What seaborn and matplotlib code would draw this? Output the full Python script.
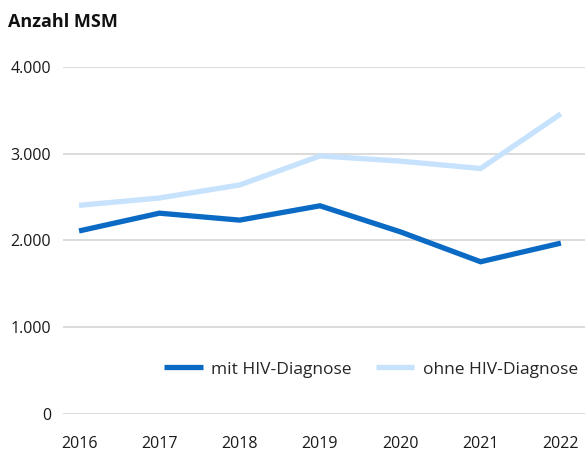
import matplotlib
matplotlib.use("Agg")
import matplotlib.pyplot as plt
import seaborn as sns
import pandas as pd
from matplotlib.ticker import FuncFormatter

years = [2016, 2017, 2018, 2019, 2020, 2021, 2022]
mit_hiv = [2110, 2315, 2235, 2400, 2100, 1755, 1970]
ohne_hiv = [2405, 2490, 2640, 2975, 2915, 2830, 3460]
labels = ["mit HIV-Diagnose", "ohne HIV-Diagnose"]
colors = ["#0a6ac4", "#c6e2fc"]

df = pd.DataFrame({"Jahr": years * 2,
                   "Anzahl": mit_hiv + ohne_hiv,
                   "Gruppe": [labels[0]] * len(years) + [labels[1]] * len(years)})

sns.set_style("white")
plt.rcParams["font.family"] = ["Open Sans", "DejaVu Sans"]

fig = plt.figure(figsize=(5.85, 4.53), dpi=100)
ax = fig.add_axes([63 / 585, 39 / 453, 522 / 585, 347 / 453])
sns.lineplot(data=df, x="Jahr", y="Anzahl", hue="Gruppe", palette=colors,
             linewidth=3.8, ax=ax, zorder=3)
for line in ax.lines:
    line.set_solid_capstyle("butt")
    line.set_solid_joinstyle("miter")

ax.set_xlim(2015.8, 2022.3)
ax.set_ylim(0, 4000)
ax.set_yticks([0, 1000, 2000, 3000, 4000])
ax.set_xticks(years)
ax.yaxis.set_major_formatter(FuncFormatter(lambda v, p: f"{int(v):,}".replace(",", ".")))
ax.grid(axis="y", color="#d9d9d9", linewidth=1.3)
ax.set_axisbelow(True)
sns.despine(ax=ax, left=True, bottom=True, top=True, right=True)
ax.tick_params(axis="x", length=0, pad=16, labelsize=11.5, colors="#1a1a1a")
ax.tick_params(axis="y", length=0, pad=8.5, labelsize=11.5, colors="#1a1a1a")
ax.set_xlabel("")
ax.set_ylabel("")

leg = ax.legend(loc="lower right", bbox_to_anchor=(1.0, 0.085), ncol=2, frameon=False,
                fontsize=12.5, handlelength=2.2, columnspacing=1.4, handletextpad=0.5,
                borderaxespad=0)
for h in leg.get_lines():
    h.set_linewidth(3.8)

fig.text(8 / 585, 1 - 22 / 453, "Anzahl MSM", fontsize=13, fontweight="bold",
         va="center", ha="left", color="#111111")

plt.savefig("out.png", dpi=100)
plt.close()
